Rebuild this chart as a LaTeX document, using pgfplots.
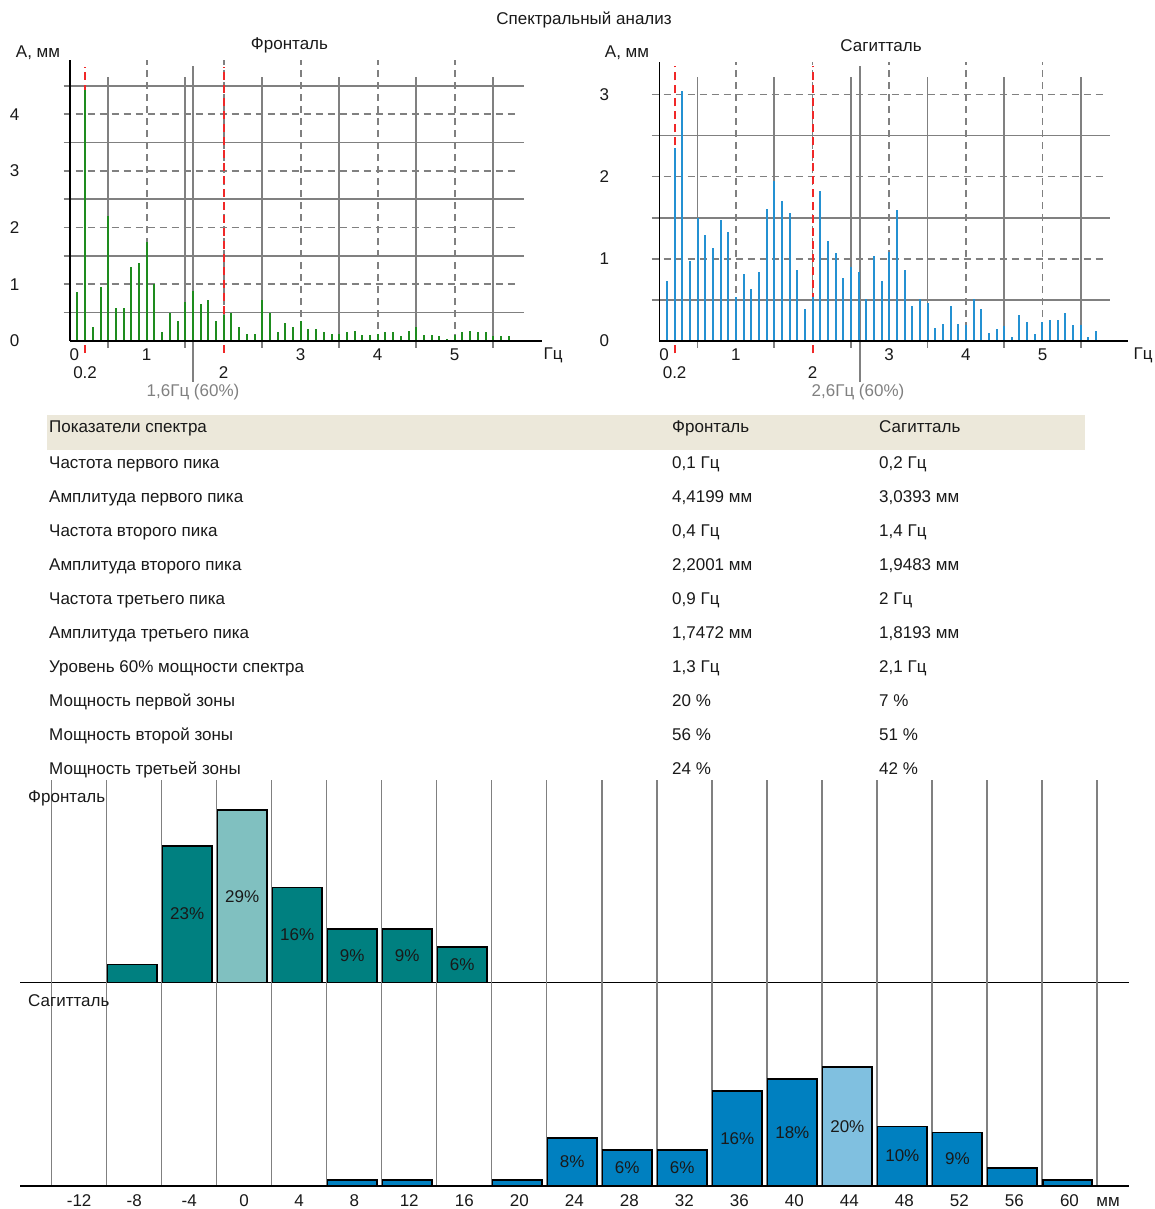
\documentclass[border=0pt]{standalone}
\usepackage{fontspec}
\setmainfont{Liberation Sans}
\usepackage{pgfplots}
\pgfplotsset{compat=1.18}
\usepackage{pgfplotstable}

\definecolor{specgreen}{RGB}{30,140,30}
\definecolor{specblue}{RGB}{36,145,210}
\definecolor{gridgray}{RGB}{128,128,128}
\definecolor{redline}{RGB}{240,40,40}
\definecolor{headbg}{RGB}{236,232,218}
\definecolor{tealbar}{RGB}{0,128,128}
\definecolor{teallight}{RGB}{128,192,192}
\definecolor{bluebar}{RGB}{0,128,192}
\definecolor{bluelight}{RGB}{128,192,224}
\definecolor{txt}{RGB}{25,25,25}
\definecolor{note}{RGB}{128,128,128}

\newcommand{\fs}{\fontsize{17}{20}\selectfont}

\pgfplotstableread{
f a
0.1 0.86
0.2 4.42
0.3 0.25
0.4 0.95
0.5 2.20
0.6 0.59
0.7 0.59
0.8 1.31
0.9 1.38
1.0 1.75
1.1 1.00
1.2 0.16
1.3 0.49
1.4 0.36
1.5 0.68
1.6 0.88
1.7 0.65
1.8 0.72
1.9 0.36
2.0 0.45
2.1 0.50
2.2 0.25
2.3 0.12
2.4 0.12
2.5 0.72
2.6 0.49
2.7 0.16
2.8 0.32
2.9 0.24
3.0 0.36
3.1 0.22
3.2 0.22
3.3 0.16
3.4 0.12
3.5 0.12
3.6 0.15
3.7 0.18
3.8 0.11
3.9 0.11
4.0 0.12
4.1 0.15
4.2 0.15
4.3 0.08
4.4 0.18
4.5 0.24
4.6 0.11
4.7 0.11
4.8 0.08
4.9 0.04
5.0 0.11
5.1 0.15
5.2 0.18
5.3 0.15
5.4 0.15
5.5 0.08
5.6 0.08
5.7 0.08
}\frontspec

\pgfplotstableread{
f a
0.1 0.73
0.2 2.35
0.3 3.04
0.4 0.97
0.5 1.50
0.6 1.29
0.7 1.13
0.8 1.47
0.9 1.33
1.0 0.54
1.1 0.82
1.2 0.63
1.3 0.84
1.4 1.61
1.5 1.95
1.6 1.70
1.7 1.56
1.8 0.86
1.9 0.39
2.0 0.54
2.1 1.82
2.2 1.22
2.3 1.07
2.4 0.77
2.5 0.90
2.6 0.84
2.7 0.51
2.8 1.04
2.9 0.73
3.0 1.08
3.1 1.59
3.2 0.86
3.3 0.43
3.4 0.51
3.5 0.46
3.6 0.16
3.7 0.21
3.8 0.42
3.9 0.21
4.0 0.20
4.1 0.51
4.2 0.39
4.3 0.10
4.4 0.14
4.5 0.18
4.6 0.05
4.7 0.32
4.8 0.23
4.9 0.08
5.0 0.23
5.1 0.25
5.2 0.25
5.3 0.34
5.4 0.19
5.5 0.20
5.6 0.05
5.7 0.12
}\sagspec

\tikzset{
  gsolid/.style={gridgray, line width=1.7pt},
  gdash/.style={gridgray, line width=1.7pt, dash pattern=on 7pt off 5pt},
  rdash/.style={redline, line width=2pt, dash pattern=on 8pt off 5pt},
  cell/.style={anchor=base west, inner sep=0pt},
}

\pgfplotsset{
  specaxis/.style={
    scale only axis, anchor=south west, xmin=0, ymin=0,
    axis lines=left, axis line style={-, black, line width=1.6pt},
    clip=false, major tick length=0pt,
    xtick={0,1,3,4,5}, xticklabels={\hphantom{0}0,1,3,4,5},
    extra x ticks={0.2,2},
    extra x tick style={xticklabel style={yshift=-18pt}},
    xticklabel style={anchor=center, yshift=-14pt},
    yticklabel style={anchor=center, xshift=-55pt},
    tick label style={font=\fs, text=txt},
    /pgf/number format/assume math mode=true,
    axis on top,
  },
  histaxis/.style={
    scale only axis, anchor=south west, width=1108.6pt,
    xmin=-16.3, xmax=64.3, ymin=0,
    axis line style={draw=none}, ytick=\empty, major tick length=0pt,
    clip=false,
  },
  barstyle/.style={ybar, bar width=49.5pt, bar shift=-2pt, draw=black, line width=1.6pt},
  barlabels/.style={draw=none, mark=none, nodes near coords, point meta=explicit symbolic,
    every node near coord/.style={anchor=center, font=\fs, text=txt}},
}

\begin{document}
\begin{tikzpicture}[font=\fs, text=txt]
\path[use as bounding box] (0pt,0pt) rectangle (1155pt,-1209pt);

% titles
\node at (584pt,-20pt) {Спектральный анализ};
\node at (289.5pt,-45.7pt) {Фронталь};
\node at (881pt,-45.7pt) {Сагитталь};
\node at (38pt,-53pt) {А, мм};
\node at (627pt,-53pt) {А, мм};
\node at (553pt,-355pt) {Гц};
\node at (1143pt,-355pt) {Гц};
\node[text=note] at (193pt,-392pt) {1,6Гц (60\%)};
\node[text=note] at (858pt,-392pt) {2,6Гц (60\%)};

% ---------- Frontal spectrum
\begin{axis}[specaxis, at={(69.7pt,-341pt)}, width=472pt, height=280.7pt,
  xmax=6.13, ymax=4.95, ytick={0,1,2,3,4}]
  \pgfplotsinvokeforeach{0.5,1.5,2.5,3.5,4.5}{\draw[gsolid] (-0.08,#1) -- (5.9,#1);}
  \pgfplotsinvokeforeach{1,2,3,4}{\draw[gdash] (-0.08,#1) -- (5.78,#1);}
  \pgfplotsinvokeforeach{0.5,1.5,2.5,3.5,4.5,5.5}{\draw[gsolid] (#1,-0.12) -- (#1,4.65);}
  \pgfplotsinvokeforeach{1,2,3,4,5}{\draw[gdash] (#1,0) -- (#1,4.95);}
  \draw[gsolid] (1.6,-0.72) -- (1.6,4.85);
  \draw[rdash] (0.2,-0.21) -- (0.2,4.84);
  \draw[rdash] (2,-0.21) -- (2,4.84);
  \addplot[ycomb, specgreen, line width=2pt, mark=none] table[x=f,y=a] {\frontspec};
\end{axis}

% ---------- Sagittal spectrum
\begin{axis}[specaxis, at={(659.3pt,-341pt)}, width=469pt, height=279.5pt,
  xmax=6.12, ymax=3.4, ytick={0,1,2,3}]
  \pgfplotsinvokeforeach{0.5,1.5,2.5}{\draw[gsolid] (-0.1,#1) -- (5.88,#1);}
  \pgfplotsinvokeforeach{1,2,3}{\draw[gdash] (-0.1,#1) -- (5.79,#1);}
  \pgfplotsinvokeforeach{0.5,1.5,2.5,3.5,4.5,5.5}{\draw[gsolid] (#1,-0.085) -- (#1,3.21);}
  \pgfplotsinvokeforeach{1,2,3,4,5}{\draw[gdash] (#1,0) -- (#1,3.4);}
  \draw[gsolid] (2.62,-0.5) -- (2.62,3.35);
  \draw[rdash] (0.2,-0.15) -- (0.2,3.34);
  \draw[rdash] (2,-0.15) -- (2,3.34);
  \addplot[ycomb, specblue, line width=2pt, mark=none] table[x=f,y=a] {\sagspec};
\end{axis}

% ---------- Table
\fill[headbg] (46.7pt,-415pt) rectangle (1085pt,-450pt);
\node[cell] at (49pt,-432.7pt) {Показатели спектра};
\node[cell] at (672pt,-432.7pt) {Фронталь};
\node[cell] at (879pt,-432.7pt) {Сагитталь};
\foreach \i/\a/\b/\c in {
  0/Частота первого пика/{0,1 Гц}/{0,2 Гц},
  1/Амплитуда первого пика/{4,4199 мм}/{3,0393 мм},
  2/Частота второго пика/{0,4 Гц}/{1,4 Гц},
  3/Амплитуда второго пика/{2,2001 мм}/{1,9483 мм},
  4/Частота третьего пика/{0,9 Гц}/{2 Гц},
  5/Амплитуда третьего пика/{1,7472 мм}/{1,8193 мм},
  6/Уровень 60\% мощности спектра/{1,3 Гц}/{2,1 Гц},
  7/Мощность первой зоны/{20 \%}/{7 \%},
  8/Мощность второй зоны/{56 \%}/{51 \%},
  9/Мощность третьей зоны/{24 \%}/{42 \%}}{
  \node[cell] at (49pt,{-468pt-34.1pt*\i}) {\a};
  \node[cell] at (672pt,{-468pt-34.1pt*\i}) {\b};
  \node[cell] at (879pt,{-468pt-34.1pt*\i}) {\c};
}

% ---------- Frontal histogram
\begin{axis}[histaxis, at={(20pt,-982.3pt)}, height=202.3pt, ymax=34.1, xtick=\empty]
  \pgfplotsinvokeforeach{-14,-10,...,62}{\draw[gridgray, line width=1.4pt] (#1,0) -- (#1,34.1);}
  \addplot[barstyle, fill=tealbar] coordinates {(-8,3) (-4,23) (4,16) (8,9) (12,9) (16,6)};
  \addplot[barstyle, fill=teallight] coordinates {(0,29)};
  \addplot[barlabels] coordinates {(-4.15,11.5)[23\%] (-0.15,14.5)[29\%] (3.85,8)[16\%]
     (7.85,4.5)[9\%] (11.85,4.5)[9\%] (15.85,3)[6\%]};
  \draw[black, line width=1.6pt] (-16.3,0) -- (64.3,0);
\end{axis}
\node[cell] at (28pt,-802.7pt) {Фронталь};

% ---------- Sagittal histogram
\begin{axis}[histaxis, at={(20pt,-1185.7pt)}, height=203.4pt, ymax=34.3,
  xtick={-12,-8,...,60},
  xticklabel style={anchor=center, yshift=-14.5pt, font=\fs, text=txt},
  /pgf/number format/assume math mode=true]
  \pgfplotsinvokeforeach{-14,-10,...,62}{\draw[gridgray, line width=1.4pt] (#1,0) -- (#1,34.3);}
  \addplot[barstyle, fill=bluebar] coordinates {(8,1) (12,1) (20,1) (24,8) (28,6) (32,6) (36,16) (40,18) (48,10) (52,9) (56,3) (60,1)};
  \addplot[barstyle, fill=bluelight] coordinates {(44,20)};
  \addplot[barlabels] coordinates {(23.85,4)[8\%] (27.85,3)[6\%] (31.85,3)[6\%] (35.85,8)[16\%]
     (39.85,9)[18\%] (43.85,10)[20\%] (47.85,5)[10\%] (51.85,4.5)[9\%]};
  \draw[black, line width=1.6pt] (-16.3,0) -- (64.3,0);
\end{axis}
\node[cell] at (28pt,-1006pt) {Сагитталь};
\node at (1108pt,-1202pt) {мм};
\end{tikzpicture}
\end{document}
